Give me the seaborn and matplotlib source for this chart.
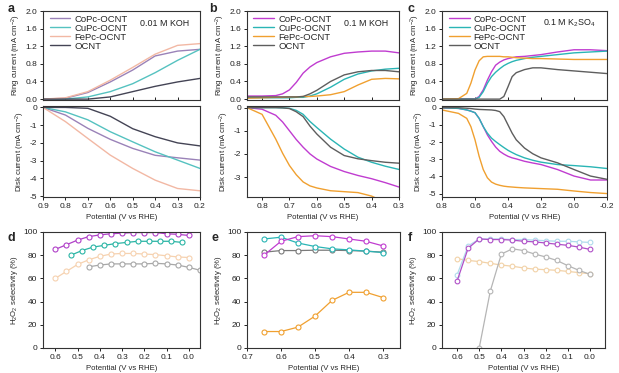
import numpy as np
import pandas as pd
import seaborn as sns
import matplotlib
matplotlib.use("Agg")
import matplotlib.pyplot as plt

sns.set_theme(style="ticks")
plt.rcParams['font.family'] = ['Liberation Sans', 'DejaVu Sans']
plt.rcParams['mathtext.default'] = 'regular'
plt.rcParams['axes.unicode_minus'] = False

series_names = ["CoPc-OCNT", "CuPc-OCNT", "FePc-OCNT", "OCNT"]

# ---------------- panel a (0.01 M KOH) ----------------
a_x = [0.9, 0.8, 0.7, 0.6, 0.5, 0.4, 0.3, 0.2]
a_ring_co = [0.0, 0.02, 0.15, 0.39, 0.66, 0.98, 1.09, 1.13]
a_ring_cu = [0.0, 0.0, 0.05, 0.17, 0.35, 0.60, 0.88, 1.13]
a_ring_fe = [0.0, 0.03, 0.17, 0.43, 0.72, 1.02, 1.22, 1.26]
a_ring_oc = [0.0, 0.0, 0.0, 0.05, 0.17, 0.29, 0.39, 0.47]
a_disk_co = [0.0, -0.43, -1.18, -1.80, -2.31, -2.70, -2.84, -2.97]
a_disk_cu = [0.0, -0.25, -0.70, -1.37, -1.94, -2.50, -2.97, -3.44]
a_disk_fe = [0.0, -0.80, -1.75, -2.69, -3.44, -4.10, -4.57, -4.70]
a_disk_oc = [0.0, 0.0, -0.05, -0.50, -1.20, -1.65, -2.00, -2.17]

# ---------------- panel b (0.1 M KOH) ----------------
b_x = [0.855, 0.8, 0.75, 0.725, 0.7, 0.675, 0.65, 0.625, 0.6, 0.55, 0.5, 0.45, 0.4, 0.35, 0.3]
b_ring_co = [0.07, 0.07, 0.08, 0.12, 0.21, 0.38, 0.59, 0.73, 0.83, 0.96, 1.04, 1.07, 1.09, 1.09, 1.05]
b_ring_cu = [0.03, 0.03, 0.03, 0.03, 0.03, 0.04, 0.04, 0.07, 0.12, 0.27, 0.45, 0.57, 0.64, 0.68, 0.70]
b_ring_fe = [0.02, 0.03, 0.04, 0.04, 0.05, 0.05, 0.06, 0.06, 0.07, 0.10, 0.17, 0.32, 0.45, 0.47, 0.46]
b_ring_oc = [0.05, 0.05, 0.05, 0.05, 0.05, 0.05, 0.06, 0.12, 0.20, 0.40, 0.55, 0.62, 0.65, 0.65, 0.62]
b_disk_co = [0.0, -0.07, -0.33, -0.62, -1.00, -1.38, -1.71, -2.00, -2.22, -2.54, -2.76, -2.93, -3.07, -3.24, -3.43]
b_disk_cu = [0.0, 0.0, 0.0, -0.01, -0.03, -0.12, -0.29, -0.60, -0.86, -1.36, -1.79, -2.14, -2.36, -2.53, -2.67]
b_disk_fe = [0.0, -0.29, -1.36, -1.97, -2.50, -2.90, -3.21, -3.38, -3.47, -3.59, -3.63, -3.67, -3.82, -4.10, -4.20]
b_disk_oc = [0.0, 0.0, 0.0, -0.01, -0.04, -0.18, -0.39, -0.80, -1.14, -1.71, -2.07, -2.21, -2.29, -2.36, -2.40]

# ---------------- panel c (0.1 M K2SO4) ----------------
c_x = [0.8, 0.7, 0.65, 0.625, 0.6, 0.575, 0.55, 0.525, 0.5, 0.475, 0.45, 0.425, 0.4, 0.375,
       0.35, 0.3, 0.25, 0.2, 0.1, 0.0, -0.1, -0.2]
c_ring_co = [0, 0, 0, 0, 0, 0.06, 0.21, 0.43, 0.62, 0.77, 0.84, 0.89, 0.92, 0.94,
             0.96, 0.97, 0.99, 1.01, 1.07, 1.12, 1.12, 1.10]
c_ring_cu = [0, 0, 0, 0, 0, 0.04, 0.17, 0.36, 0.51, 0.61, 0.69, 0.76, 0.81, 0.85,
             0.88, 0.92, 0.95, 0.97, 1.01, 1.05, 1.07, 1.09]
c_ring_fe = [0, 0.01, 0.13, 0.36, 0.66, 0.87, 0.96, 0.97, 0.97, 0.97, 0.97, 0.96, 0.96, 0.95,
             0.94, 0.93, 0.92, 0.92, 0.91, 0.90, 0.90, 0.90]
c_ring_oc = [0, 0, 0, 0, 0, 0, 0, 0, 0, 0, 0, 0.06, 0.28, 0.51,
             0.60, 0.67, 0.71, 0.71, 0.67, 0.64, 0.61, 0.58]
c_disk_co = [0.0, -0.04, -0.13, -0.20, -0.29, -0.62, -1.10, -1.58, -1.96, -2.29, -2.54, -2.70, -2.83, -2.92,
             -2.98, -3.12, -3.22, -3.31, -3.60, -3.98, -4.21, -4.21]
c_disk_cu = [0.0, -0.04, -0.13, -0.20, -0.29, -0.62, -1.10, -1.48, -1.77, -1.97, -2.15, -2.32, -2.48, -2.61,
             -2.73, -2.92, -3.06, -3.17, -3.31, -3.37, -3.44, -3.54]
c_disk_fe = [-0.13, -0.33, -0.62, -1.10, -1.87, -2.83, -3.60, -4.08, -4.33, -4.45, -4.52, -4.57, -4.60, -4.62,
             -4.64, -4.67, -4.69, -4.71, -4.75, -4.85, -4.94, -5.00]
c_disk_oc = [0.0, 0.0, -0.03, -0.05, -0.08, -0.10, -0.11, -0.12, -0.13, -0.16, -0.23, -0.52, -1.00, -1.48,
             -1.87, -2.35, -2.68, -2.92, -3.21, -3.60, -3.98, -4.17]

# ---------------- panel d ----------------
d_x_co = [0.6, 0.55, 0.5, 0.45, 0.4, 0.35, 0.3, 0.25, 0.2, 0.15, 0.1, 0.05, 0.0]
d_co = [85, 89, 93, 96, 97.5, 98.5, 99, 99.5, 99.5, 99.5, 98.5, 98, 97]
d_x_cu = [0.53, 0.48, 0.43, 0.38, 0.33, 0.28, 0.23, 0.18, 0.13, 0.08, 0.03]
d_cu = [80, 84, 87, 88.5, 90, 91, 92, 92, 92, 92, 91]
d_x_fe = [0.6, 0.55, 0.5, 0.45, 0.4, 0.35, 0.3, 0.25, 0.2, 0.15, 0.1, 0.05, 0.0]
d_fe = [60, 66, 72, 76, 79, 81, 81.5, 81.5, 81, 80.5, 79.5, 78.5, 78]
d_x_oc = [0.45, 0.4, 0.35, 0.3, 0.25, 0.2, 0.15, 0.1, 0.05, 0.0, -0.05]
d_oc = [70, 71.5, 72.5, 72.5, 72.5, 72.5, 73, 72.5, 71.5, 69.5, 67]

# ---------------- panel e ----------------
e_x = [0.65, 0.6, 0.55, 0.5, 0.45, 0.4, 0.35, 0.3]
e_co = [80, 92, 96, 96.8, 96, 94, 92, 88]
e_cu = [94, 95.5, 90.5, 87.5, 85.5, 84.6, 83.5, 82.3]
e_fe = [14.2, 14.2, 18, 27.5, 41, 48, 48, 43.5]
e_oc = [82.6, 84, 84, 84.3, 84.3, 84, 83.5, 82.6]

# ---------------- panel f ----------------
f_x = [0.6, 0.55, 0.5, 0.45, 0.4, 0.35, 0.3, 0.25, 0.2, 0.15, 0.1, 0.05, 0.0]
f_co = [57.7, 86, 94, 93.5, 93.5, 93, 92, 91.5, 90.5, 89.5, 88.5, 87, 85]
f_cu = [63, 88, 94, 94, 94, 93.5, 93.5, 93, 92.5, 92, 92, 91.5, 91]
f_fe = [77, 75.5, 74.5, 73, 71.5, 70.5, 69, 68, 67.5, 67, 66, 65, 64]
f_x_oc = [0.5, 0.45, 0.4, 0.35, 0.3, 0.25, 0.2, 0.15, 0.1, 0.05, 0.0]
f_oc = [0, 49, 81, 85.5, 84, 81, 78.5, 75.5, 71, 67, 63.5]

# colours
col_main = {"CoPc-OCNT": "#c03cd0", "CuPc-OCNT": "#2ab5b5", "FePc-OCNT": "#f0a030", "OCNT": "#5e5e5e"}
col_a = {"CoPc-OCNT": "#9a82b8", "CuPc-OCNT": "#55c2c0", "FePc-OCNT": "#f2b8a4", "OCNT": "#444455"}

W, H = 619, 373
fig = plt.figure(figsize=(W / 100, H / 100), dpi=100)


def add_ax(l, r, t, b):
    return fig.add_axes([l / W, 1 - b / H, (r - l) / W, (b - t) / H])


TICK_FS = 6.0
LAB_FS = 5.6


def style(ax):
    for s in ax.spines.values():
        s.set_linewidth(0.8)
        s.set_color("#333333")
    ax.tick_params(axis="both", labelsize=TICK_FS, width=0.7, length=2.5, pad=1.5, colors="#222222")


def draw_pair(l, r, x, rings, disks, cols, xlim, xticks, xticklabels, dylim, dyticks, note, letter, lx):
    axr = add_ax(l, r, 11, 100)
    axd = add_ax(l, r, 106, 197)
    for name, y in zip(series_names, rings):
        sns.lineplot(x=x, y=y, ax=axr, color=cols[name], label=name, sort=False, linewidth=1.0)
    for name, y in zip(series_names, disks):
        sns.lineplot(x=x, y=y, ax=axd, color=cols[name], sort=False, linewidth=1.0, legend=False)
    for ax in (axr, axd):
        style(ax)
        ax.set_xlim(*xlim)
        ax.set_xticks(xticks)
    axr.set_ylim(-0.02, 2.0)
    axr.set_yticks([0.0, 0.4, 0.8, 1.2, 1.6, 2.0])
    axr.set_yticklabels(["0.0", "0.4", "0.8", "1.2", "1.6", "2.0"])
    axr.tick_params(axis="x", direction="in", labelbottom=False, length=2)
    axd.set_xticklabels(xticklabels)
    axd.set_ylim(*dylim)
    axd.set_yticks(dyticks)
    axd.set_yticklabels([str(int(v)) for v in dyticks])
    axr.set_ylabel("Ring current (mA cm$^{-2}$)", fontsize=LAB_FS, labelpad=2)
    axd.set_ylabel("Disk current (mA cm$^{-2}$)", fontsize=LAB_FS, labelpad=2)
    axd.set_xlabel("Potential (V vs RHE)", fontsize=LAB_FS, labelpad=3)
    axr.set_xlabel("")
    axr.legend(loc="upper left", bbox_to_anchor=(0.03, 0.98), frameon=False, fontsize=6.8,
               labelspacing=0.0, handlelength=2.2, handletextpad=0.4, borderaxespad=0, borderpad=0.2)
    axr.text(0.93, 0.86, note, transform=axr.transAxes, ha="right", va="center", fontsize=6.4, color="#222222")
    fig.text(lx / W, 1 - 9 / H, letter, fontsize=9, fontweight="bold", va="center", ha="left")
    return axr, axd


draw_pair(43, 200, a_x, [a_ring_co, a_ring_cu, a_ring_fe, a_ring_oc],
          [a_disk_co, a_disk_cu, a_disk_fe, a_disk_oc], col_a,
          (0.9, 0.2), [0.9, 0.8, 0.7, 0.6, 0.5, 0.4, 0.3, 0.2],
          ["0.9", "0.8", "0.7", "0.6", "0.5", "0.4", "0.3", "0.2"],
          (-5.05, 0.08), [0, -1, -2, -3, -4, -5], "0.01 M KOH", "a", 8)

draw_pair(247, 399, b_x, [b_ring_co, b_ring_cu, b_ring_fe, b_ring_oc],
          [b_disk_co, b_disk_cu, b_disk_fe, b_disk_oc], col_main,
          (0.855, 0.3), [0.8, 0.7, 0.6, 0.5, 0.4, 0.3],
          ["0.8", "0.7", "0.6", "0.5", "0.4", "0.3"],
          (-3.86, 0.07), [0, -1, -2, -3], "0.1 M KOH", "b", 209)

draw_pair(442, 607, c_x, [c_ring_co, c_ring_cu, c_ring_fe, c_ring_oc],
          [c_disk_co, c_disk_cu, c_disk_fe, c_disk_oc], col_main,
          (0.8, -0.2), [0.8, 0.6, 0.4, 0.2, 0.0, -0.2],
          ["0.8", "0.6", "0.4", "0.2", "0.0", "-0.2"],
          (-5.2, 0.1), [0, -1, -2, -3, -4, -5], "0.1 M K$_2$SO$_4$", "c", 408)


def sel_panel(l, r, xlim, xticks, xticklabels, series, letter, lx):
    ax = add_ax(l, r, 232, 348)
    for x, y, c, ms in series:
        sns.lineplot(x=x, y=y, ax=ax, color=c, sort=False, linewidth=0.9, marker="o",
                     markersize=ms, markerfacecolor="white", markeredgecolor=c, markeredgewidth=0.8,
                     legend=False, clip_on=True)
    style(ax)
    ax.set_xlim(*xlim)
    ax.set_xticks(xticks)
    ax.set_xticklabels(xticklabels)
    ax.set_ylim(0, 100)
    ax.set_yticks([0, 20, 40, 60, 80, 100])
    ax.set_ylabel("H$_2$O$_2$ selectivity (%)", fontsize=LAB_FS, labelpad=2)
    ax.set_xlabel("Potential (V vs RHE)", fontsize=LAB_FS, labelpad=3)
    fig.text(lx / W, 1 - 238 / H, letter, fontsize=9, fontweight="bold", va="center", ha="left")
    return ax


sel_panel(43, 200, (0.655, -0.05), [0.6, 0.5, 0.4, 0.3, 0.2, 0.1, 0.0],
          ["0.6", "0.5", "0.4", "0.3", "0.2", "0.1", "0.0"],
          [(d_x_fe, d_fe, "#f6d2b0", 3.6), (d_x_oc, d_oc, "#a8a8a8", 3.6),
           (d_x_cu, d_cu, "#2ab5a5", 3.6), (d_x_co, d_co, "#b040c8", 3.6)], "d", 7)

sel_panel(247, 400, (0.7, 0.25), [0.7, 0.6, 0.5, 0.4, 0.3],
          ["0.7", "0.6", "0.5", "0.4", "0.3"],
          [(e_x, e_oc, "#7a7a7a", 3.6), (e_x, e_fe, "#f0a030", 3.6),
           (e_x, e_cu, "#2ab5b5", 3.6), (e_x, e_co, "#c03cd0", 3.6)], "e", 211)

sel_panel(442, 605, (0.668, -0.068), [0.6, 0.5, 0.4, 0.3, 0.2, 0.1, 0.0],
          ["0.6", "0.5", "0.4", "0.3", "0.2", "0.1", "0.0"],
          [(f_x, f_fe, "#f2d2a8", 3.4), (f_x_oc, f_oc, "#b5b5b5", 3.4),
           (f_x, f_cu, "#b0dcec", 3.4), (f_x, f_co, "#b050c8", 3.4)], "f", 408)

fig.savefig("out.png", dpi=100)
